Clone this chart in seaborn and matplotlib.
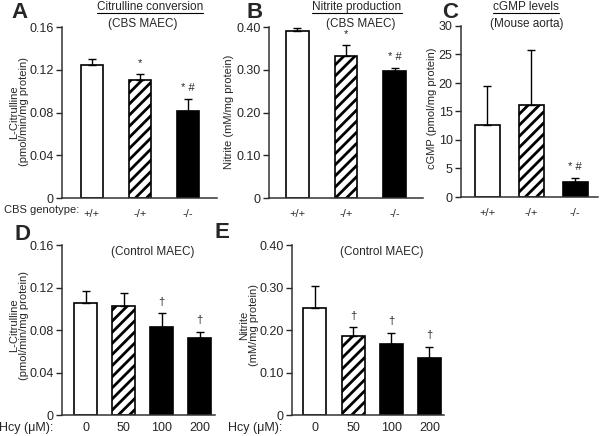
import numpy as np
import pandas as pd
import seaborn as sns
import matplotlib.pyplot as plt

# panel A: citrulline conversion (CBS MAEC)
geno = ["+/+", "-/+", "-/-"]
cit_geno = [0.1245, 0.110, 0.0815]
cit_geno_err = [0.0055, 0.006, 0.011]
cit_geno_sig = ["", "*", "* #"]

# panel B: nitrite production (CBS MAEC)
nit_geno = [0.390, 0.332, 0.296]
nit_geno_err = [0.007, 0.026, 0.007]
nit_geno_sig = ["", "*", "* #"]

# panel C: cGMP (mouse aorta)
cgmp = [12.7, 16.1, 2.6]
cgmp_err = [6.8, 9.7, 0.7]
cgmp_sig = ["", "", "* #"]

# panels D/E: homocysteine treatment (control MAEC)
hcy = ["0", "50", "100", "200"]
cit_hcy = [0.1055, 0.1025, 0.0825, 0.0725]
cit_hcy_err = [0.0115, 0.0125, 0.0135, 0.0060]
nit_hcy = [0.252, 0.186, 0.168, 0.133]
nit_hcy_err = [0.052, 0.021, 0.026, 0.028]
hcy_sig = ["", "\u2020", "\u2020", "\u2020"]
hcy_sig_d = ["", "", "\u2020", "\u2020"]

W, H = 600, 436

sns.set_style("ticks")
plt.rcParams['font.family'] = ['Liberation Sans', 'DejaVu Sans']
plt.rcParams['hatch.linewidth'] = 2.0
plt.rcParams['hatch.color'] = 'black'

fig = plt.figure(figsize=(6, 4.36), dpi=100)


def px_axes(x0, x1, ytop, ybot):
    return fig.add_axes([x0 / W, 1 - ybot / H, (x1 - x0) / W, (ybot - ytop) / H])


def bar_panel(ax, cats, vals, errs, fills, hatches, width, xlim, ylim, yticks, ytl, sig):
    df = pd.DataFrame({"cat": cats, "val": vals})
    sns.barplot(data=df, x="cat", y="val", hue="cat", palette=fills, legend=False,
                width=width, edgecolor="black", linewidth=1.2, ax=ax, errorbar=None)
    for p, h in zip(ax.patches, hatches):
        if h:
            p.set_hatch(h)
    pos = np.arange(len(cats))
    ax.errorbar(pos, vals, yerr=[np.zeros(len(vals)), errs], fmt="none",
                ecolor="black", elinewidth=1.0, capsize=3, capthick=1.0)
    for i, s in enumerate(sig):
        if s:
            ax.annotate(s, (i, vals[i] + errs[i]), xytext=(0, 8), textcoords="offset points",
                        ha="center", va="center", fontsize=8)
    ax.set_xlim(*xlim)
    ax.set_ylim(*ylim)
    ax.set_yticks(yticks)
    ax.set_yticklabels(ytl, fontsize=9)
    ax.set_xlabel("")
    ax.set_ylabel("")
    ax.tick_params(axis="x", length=0, labelsize=8, pad=8)
    ax.tick_params(axis="y", length=4, width=1, pad=2)
    sns.despine(ax=ax)
    for s in ["left", "bottom"]:
        ax.spines[s].set_linewidth(1.1)
        ax.spines[s].set_color("#333333")


fills3 = ["white", "white", "black"]
hat3 = [None, "///", None]
fills4 = ["white", "white", "black", "black"]
hat4 = [None, "///", None, None]

axA = px_axes(62, 217, 27, 198)
bar_panel(axA, geno, cit_geno, cit_geno_err, fills3, hat3, 0.46, (-0.62, 2.6), (0, 0.16),
          [0, 0.04, 0.08, 0.12, 0.16], ["0", "0.04", "0.08", "0.12", "0.16"], cit_geno_sig)

axB = px_axes(269, 423, 27, 198)
bar_panel(axB, geno, nit_geno, nit_geno_err, fills3, hat3, 0.47, (-0.58, 2.58), (0, 0.40),
          [0, 0.1, 0.2, 0.3, 0.4], ["0", "0.10", "0.20", "0.30", "0.40"], nit_geno_sig)

axC = px_axes(461, 598, 26, 197)
bar_panel(axC, geno, cgmp, cgmp_err, fills3, hat3, 0.57, (-0.6, 2.52), (0, 30),
          [0, 5, 10, 15, 20, 25, 30], ["0", "5", "10", "15", "20", "25", "30"], cgmp_sig)

axD = px_axes(62, 215, 245, 415)
bar_panel(axD, hcy, cit_hcy, cit_hcy_err, fills4, hat4, 0.6, (-0.62, 3.4), (0, 0.16),
          [0, 0.04, 0.08, 0.12, 0.16], ["0", "0.04", "0.08", "0.12", "0.16"], hcy_sig_d)

axE = px_axes(292, 444, 245, 415)
bar_panel(axE, hcy, nit_hcy, nit_hcy_err, fills4, hat4, 0.6, (-0.6, 3.38), (0, 0.40),
          [0, 0.1, 0.2, 0.3, 0.4], ["0", "0.10", "0.20", "0.30", "0.40"], hcy_sig)
for ax in (axD, axE):
    ax.tick_params(axis="x", labelsize=9, pad=5)


def ftext(x, y, s, **kw):
    return fig.text(x / W, 1 - y / H, s, **kw)


# panel letters
for lx, ly, l in [(20, 13, "A"), (255, 12, "B"), (450, 12, "C"), (22, 234, "D"), (222, 233, "E")]:
    ftext(lx, ly, l, fontsize=16, fontweight="bold", ha="center", va="center")

# titles (underlined)
renderer = fig.canvas.get_renderer()
for tx, ty, s in [(150, 7, "Citrulline conversion"), (357, 7, "Nitrite production"),
                  (526, 7, "cGMP levels")]:
    t = ftext(tx, ty, s, fontsize=8.5, ha="center", va="center")
    bb = t.get_window_extent(renderer)
    fig.add_artist(plt.Line2D([bb.x0 / W, bb.x1 / W], [bb.y0 / H, bb.y0 / H],
                              color="black", lw=0.8))

for tx, ty, s in [(143, 24, "(CBS MAEC)"), (361, 24, "(CBS MAEC)"), (527, 24, "(Mouse aorta)"),
                  (153, 252, "(Control MAEC)"), (382, 252, "(Control MAEC)")]:
    ftext(tx, ty, s, fontsize=8.5, ha="center", va="center")

# y labels
for tx, ty, s in [(19, 112, "L-Citrulline\n(pmol/min/mg protein)"), (229, 112, "Nitrite (mM/mg protein)"),
                  (432, 108, "cGMP (pmol/mg protein)"), (19, 325, "L-Citrulline\n(pmol/min/mg protein)"),
                  (249, 325, "Nitrite\n(mM/mg protein)")]:
    ftext(tx, ty, s, fontsize=8, rotation=90, ha="center", va="center", multialignment="center",
          linespacing=1.0)

# x-axis row captions
ftext(79, 210, "CBS genotype:", fontsize=8, ha="right", va="center")
ftext(53, 428, "Hcy (\u03bcM):", fontsize=9, ha="right", va="center")
ftext(282, 428, "Hcy (\u03bcM):", fontsize=9, ha="right", va="center")

fig.savefig("out.png", dpi=100)
